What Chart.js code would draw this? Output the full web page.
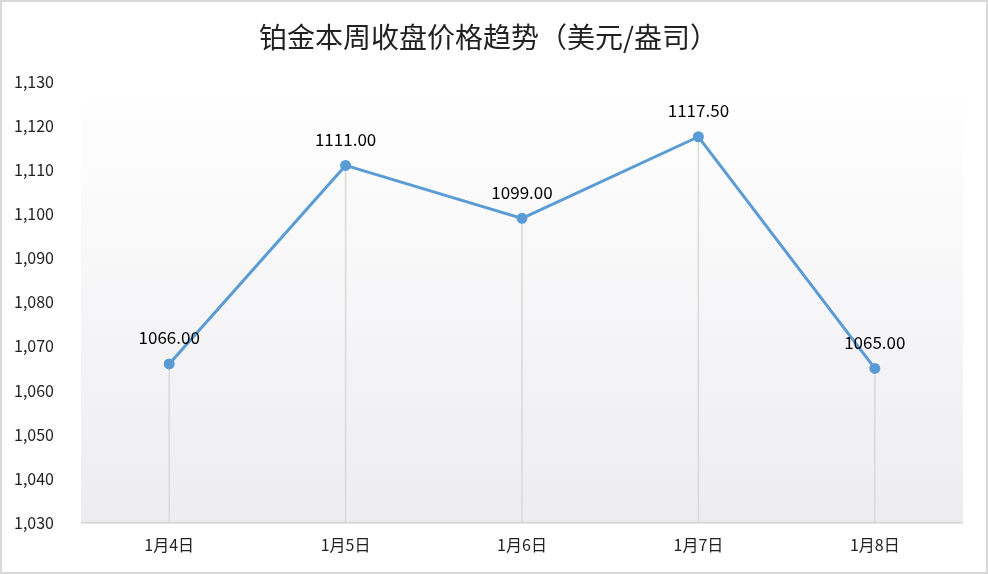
<!DOCTYPE html>
<html>
<head>
<meta charset="utf-8">
<script src="https://cdn.jsdelivr.net/npm/chart.js@4"></script>
<style>
  html, body { margin: 0; padding: 0; background: #fff; }
  #wrap { width: 988px; height: 574px; position: relative; }
</style>
</head>
<body>
<div id="wrap"><canvas id="chart"></canvas></div>
<script>
const titleText = "铂金本周收盘价格趋势（美元/盎司）";
const days = ["1月4日", "1月5日", "1月6日", "1月7日", "1月8日"];
const prices = [1066.00, 1111.00, 1099.00, 1117.50, 1065.00];
const yMin = 1030;
const yMax = 1130;
const yStep = 10;

const fontFamily = "'Noto Sans CJK SC', 'Noto Sans', sans-serif";

// background gradient in plot area + outer border + drop lines
const backdrop = {
  id: "backdrop",
  beforeDatasetsDraw(chart) {
    const { ctx, chartArea: a } = chart;
    ctx.save();
    const g = ctx.createLinearGradient(0, a.top, 0, a.bottom);
    g.addColorStop(0, "#ffffff");
    g.addColorStop(1, "#ededf0");
    ctx.fillStyle = g;
    ctx.fillRect(a.left, a.top, a.right - a.left, a.bottom - a.top);

    // drop lines
    const meta = chart.getDatasetMeta(0);
    ctx.strokeStyle = "#d9d9d9";
    ctx.lineWidth = 1.5;
    meta.data.forEach(pt => {
      ctx.beginPath();
      ctx.moveTo(pt.x, pt.y);
      ctx.lineTo(pt.x, a.bottom);
      ctx.stroke();
    });

    // x axis line
    ctx.strokeStyle = "#d9d9d9";
    ctx.lineWidth = 2;
    ctx.beginPath();
    ctx.moveTo(a.left, a.bottom);
    ctx.lineTo(a.right, a.bottom);
    ctx.stroke();
    ctx.restore();
  },
  afterDraw(chart) {
    const { ctx, width, height } = chart;
    ctx.save();
    ctx.strokeStyle = "#d9d9d9";
    ctx.lineWidth = 2;
    ctx.strokeRect(1, 1, width - 2, height - 2);
    ctx.restore();
  }
};

const valueLabels = {
  id: "valueLabels",
  afterDatasetsDraw(chart) {
    const { ctx } = chart;
    const meta = chart.getDatasetMeta(0);
    ctx.save();
    ctx.font = "17px " + fontFamily;
    ctx.fillStyle = "#000";
    ctx.textAlign = "center";
    ctx.textBaseline = "middle";
    meta.data.forEach((pt, i) => {
      ctx.fillText(prices[i].toFixed(2), pt.x, pt.y - 26);
    });
    ctx.restore();
  }
};

new Chart(document.getElementById("chart"), {
  type: "line",
  data: {
    labels: days,
    datasets: [{
      data: prices,
      borderColor: "#5b9bd5",
      backgroundColor: "#5b9bd5",
      borderWidth: 3,
      pointRadius: 4,
      pointHoverRadius: 4,
      tension: 0,
    }]
  },
  options: {
    responsive: true,
    maintainAspectRatio: false,
    animation: false,
    layout: { padding: { left: 14, right: 25, top: 4, bottom: 6 } },
    plugins: {
      legend: { display: false },
      tooltip: { enabled: false },
      title: {
        display: true,
        text: titleText,
        color: "#222",
        font: { family: fontFamily, size: 28, weight: "normal" },
        padding: { top: 17, bottom: 27 }
      }
    },
    scales: {
      x: {
        offset: true,
        grid: { display: false, drawTicks: false },
        border: { display: false },
        ticks: { color: "#222", font: { family: fontFamily, size: 16 }, padding: 13 }
      },
      y: {
        min: yMin,
        max: yMax,
        grid: { display: false, drawTicks: false },
        border: { display: false },
        afterFit(scale) { scale.width = 67; },
        ticks: {
          stepSize: yStep,
          crossAlign: "far",
          padding: 8,
          color: "#222",
          font: { family: fontFamily, size: 16 },
          callback: v => v.toLocaleString("en-US")
        }
      }
    }
  },
  plugins: [backdrop, valueLabels]
});
</script>
</body>
</html>
